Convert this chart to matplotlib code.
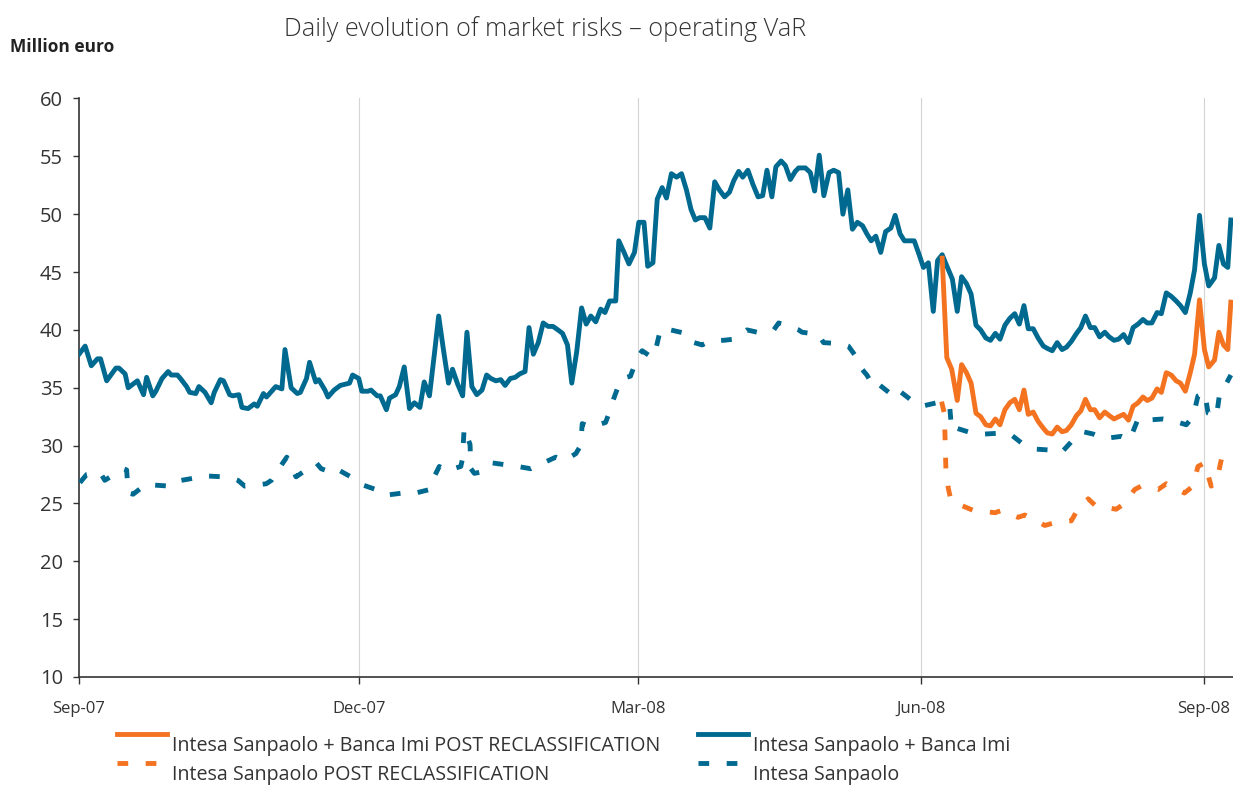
import matplotlib
matplotlib.use("Agg")
import matplotlib.pyplot as plt
from matplotlib.legend_handler import HandlerLine2D

plt.rcParams['font.family'] = ['Open Sans', 'DejaVu Sans']

# x = days since 1 Sep 2007, y = million euro
isp_imi_days = [0, 2, 4, 6, 7, 9, 12, 13, 15, 16, 19, 21, 22, 24, 25, 27, 29, 30, 32, 33,
                35, 36, 38, 39, 41, 43, 44, 46, 47, 49, 50, 52, 53, 55, 57, 58, 60, 61, 63, 64,
                66, 67, 69, 71, 72, 74, 75, 77, 78, 80, 81, 83, 85, 88, 89, 91, 92, 94, 95, 97,
                98, 100, 101, 103, 104.2, 105.8, 107.5, 109.1, 110.9, 112.3, 114.0, 115.6, 117.0,
                118.6, 120.2, 121.5, 123.2, 124.8, 126.2, 127.8, 129.4, 131.1, 132.6, 134.0,
                135.6, 137.2, 138.6, 140.3, 141.9, 143.4, 145.1, 146.4, 147.8, 149.4, 151.0,
                152.6, 154.2, 155.8, 157.3, 158.9, 160.3, 161.9, 163.5, 165.0, 166.5, 168.1,
                169.7, 171.1, 172.6, 174.6, 175.6, 177.3, 178.9, 180.7, 182.1, 183.8, 185.0,
                186.7, 188.1, 189.7, 191.1, 192.7, 194.4, 196.0, 197.6, 199.1, 200.5, 201.9,
                203.6, 205.2, 206.8, 208.3, 210.0, 211.6, 213.0, 214.6, 215.9, 217.6, 219.2,
                220.9, 222.4, 223.8, 225.4, 226.7, 228.4, 229.8, 231.4, 233.0, 234.1, 236.3,
                237.9, 239.3, 240.8, 242.3, 244.0, 245.5, 247.1, 248.5, 250.1, 251.6, 253.2,
                254.9, 256.3, 257.7, 259.2, 260.8, 262.4, 264.1, 265.5, 267.1, 268.5, 270.1,
                271.7, 273.3, 274.7, 276.3, 277.9, 279.3, 280.8, 282.5, 284.1, 285.7, 287.1,
                288.7, 290.2, 291.8, 293.3, 295.0, 296.5, 298.1, 299.6, 301.2, 302.8, 304.4,
                305.9, 307.4, 308.8, 310.4, 312.0, 313.7, 315.0, 316.6, 318.2, 319.8, 321.2,
                322.8, 324.5, 325.9, 327.4, 329.0, 330.4, 332.0, 333.7, 335.1, 336.7, 338.2,
                339.8, 341.4, 342.9, 344.5, 346.1, 347.5, 349.0, 350.7, 352.1, 353.7, 355.3,
                356.9, 358.3, 359.9, 361.5, 362.9, 364.5, 366.1, 367.5, 369.4, 370.8, 372.3,
                373.7, 374.7]
isp_imi = [37.9, 38.6, 36.9, 37.5, 37.5, 35.6, 36.7, 36.7, 36.2, 35.0, 35.6, 34.4, 35.9, 34.3,
           34.7, 35.8, 36.4, 36.1, 36.1, 35.8, 35.1, 34.6, 34.5, 35.1, 34.6, 33.7, 34.6, 35.7,
           35.6, 34.4, 34.3, 34.4, 33.3, 33.2, 33.6, 33.4, 34.5, 34.2, 34.8, 35.1, 34.9, 38.3,
           35.0, 34.5, 34.6, 35.8, 37.2, 35.5, 35.7, 34.8, 34.2, 34.8, 35.2, 35.4, 36.1, 35.8,
           34.7, 34.7, 34.8, 34.3, 34.3, 33.1, 34.1, 34.4, 35.1, 36.8, 33.2, 33.7, 33.3, 35.5,
           34.3, 37.9, 41.2, 38.2, 35.4, 36.6, 35.3, 34.3, 39.8, 35.1, 34.4, 34.8, 36.1, 35.8,
           35.6, 35.7, 35.2, 35.8, 35.9, 36.2, 36.4, 40.2, 37.9, 38.9, 40.6, 40.3, 40.3, 40.0,
           39.7, 38.7, 35.4, 38.1, 41.9, 40.5, 41.2, 40.7, 41.8, 41.5, 42.5, 42.5, 47.7, 46.7,
           45.7, 46.7, 49.3, 49.3, 45.5, 45.8, 51.3, 52.3, 51.4, 53.5, 53.2, 53.5, 52.1, 50.4,
           49.5, 49.7, 49.7, 48.8, 52.8, 52.1, 51.5, 51.9, 52.9, 53.7, 53.2, 53.8, 52.6, 51.5,
           51.6, 53.8, 51.5, 54.1, 54.6, 54.2, 53.0, 53.7, 54.0, 54.0, 53.6, 52.0, 55.1, 51.6,
           53.6, 53.8, 53.6, 50.0, 52.1, 48.7, 49.3, 49.0, 48.3, 47.7, 48.1, 46.7, 48.5, 48.8,
           49.9, 48.3, 47.7, 47.7, 47.7, 46.5, 45.4, 45.8, 41.6, 46.0, 46.5, 45.4, 44.4, 41.6,
           44.6, 44.0, 43.1, 40.4, 40.0, 39.3, 39.1, 39.7, 39.2, 40.4, 41.0, 41.4, 40.5, 42.1,
           40.1, 40.1, 39.3, 38.6, 38.4, 38.2, 38.9, 38.3, 38.5, 39.0, 39.7, 40.2, 41.2, 40.2,
           40.2, 39.4, 39.8, 39.4, 39.1, 39.2, 39.6, 38.9, 40.2, 40.5, 40.9, 40.6, 40.6, 41.5,
           41.4, 43.2, 42.9, 42.5, 42.1, 41.5, 43.2, 45.2, 49.9, 45.7, 43.8, 44.5, 47.3, 45.7,
           45.4, 49.5]

isp_imi_post_days = [280.8, 282.3, 283.9, 285.7, 287.1, 288.7, 290.2, 291.8, 293.3, 295.0,
                     296.5, 298.1, 299.6, 301.2, 302.8, 304.4, 305.9, 307.4, 308.8, 310.4,
                     312.0, 313.7, 315.0, 316.6, 318.2, 319.8, 321.2, 322.8, 324.5, 325.9,
                     327.4, 329.0, 330.4, 332.0, 333.7, 335.1, 336.7, 338.2, 339.8, 341.4,
                     342.9, 344.5, 346.1, 347.5, 349.0, 350.7, 352.1, 353.7, 355.3, 356.9,
                     358.3, 359.9, 361.5, 362.9, 364.5, 366.1, 367.5, 369.4, 370.8, 372.3,
                     373.7, 374.7]
isp_imi_post = [46.2, 37.6, 36.6, 33.9, 37.0, 36.3, 35.4, 32.8, 32.5, 31.8, 31.7, 32.3, 31.8,
                33.1, 33.7, 34.0, 33.1, 34.8, 32.7, 32.9, 32.1, 31.5, 31.1, 31.0, 31.6, 31.2,
                31.3, 31.8, 32.6, 33.0, 34.0, 33.1, 33.1, 32.4, 32.9, 32.6, 32.3, 32.5, 32.7,
                32.2, 33.4, 33.7, 34.2, 33.9, 34.1, 34.9, 34.6, 36.3, 36.1, 35.6, 35.4, 34.7,
                36.3, 37.9, 42.6, 38.3, 36.8, 37.4, 39.8, 38.7, 38.3, 42.4]

isp_days = [0.3, 2.5, 6.8, 8.4, 14.4, 15.5, 16.0, 17.6, 22.0, 23.6, 29.5, 31.2, 37.7, 39.8,
            46.9, 49.6, 51.7, 53.9, 60.9, 62.6, 66.3, 67.6, 70.6, 72.8, 77.2, 78.8, 82.0,
            83.7, 89.1, 91.2, 96.6, 99.4, 105.3, 108.0, 114.0, 115.0, 117.2, 119.4, 124.2,
            124.7, 125.3, 127.2, 127.5, 128.6, 132.4, 134.5, 139.9, 142.6, 147.0, 150.2,
            155.1, 157.8, 161.6, 163.2, 163.7, 166.5, 171.3, 172.4, 174.0, 175.1, 176.7,
            179.4, 181.6, 183.2, 186.5, 187.6, 189.2, 192.4, 197.3, 198.9, 202.7, 205.9,
            209.7, 213.0, 217.3, 220.6, 226.0, 227.6, 234.1, 235.2, 240.6, 242.2, 248.2,
            250.3, 253.0, 254.1, 256.3, 257.4, 259.5, 260.6, 264.4, 266.0, 271.4, 274.1,
            280.6, 283.3, 283.9, 285.5, 291.5, 294.7, 301.2, 303.4, 307.7, 310.9, 316.9,
            319.6, 323.4, 326.6, 329.9, 333.2, 339.1, 341.8, 344.5, 347.2, 352.6, 355.3,
            360.2, 362.4, 364.0, 366.2, 367.3, 370.0, 371.1, 372.7, 374.7]
isp = [26.8, 27.5, 27.7, 27.0, 28.0, 27.9, 25.9, 25.8, 26.7, 26.6, 26.5, 26.9, 27.2, 27.4,
       27.3, 27.2, 27.0, 26.5, 26.7, 27.0, 28.5, 29.0, 27.3, 27.7, 28.5, 28.0, 27.7, 28.0,
       27.2, 26.7, 26.2, 25.7, 25.9, 25.8, 26.2, 27.0, 28.2, 27.8, 28.2, 28.8, 31.5, 30.1,
       28.0, 27.6, 27.8, 28.5, 28.3, 28.2, 28.0, 28.4, 29.0, 28.7, 29.3, 30.0, 31.9, 31.6,
       32.0, 32.8, 34.1, 34.9, 35.8, 36.0, 37.6, 38.2, 37.6, 38.3, 40.1, 40.0, 39.7, 39.0,
       38.7, 39.1, 39.1, 39.2, 40.0, 39.8, 40.0, 40.6, 40.0, 39.8, 39.6, 38.9, 38.8, 38.6,
       37.6, 36.8, 36.1, 35.6, 35.8, 35.2, 34.4, 34.9, 33.8, 33.4, 33.8, 33.2, 31.3, 31.5,
       31.0, 31.0, 31.1, 30.9, 30.0, 29.7, 29.6, 29.4, 30.5, 31.2, 31.0, 30.6, 30.8, 30.5,
       32.3, 32.2, 32.3, 32.2, 31.8, 32.5, 34.3, 34.6, 32.8, 32.5, 34.6, 35.1, 36.1]

isp_post_days = [280.6, 281.4, 281.7, 282.0, 282.8, 283.7, 288.2, 290.9, 298.0, 300.1, 305.5,
                 307.7, 314.2, 316.9, 322.8, 324.5, 328.3, 330.7, 337.4, 340.1, 343.4, 345.5,
                 351.0, 353.7, 359.6, 362.4, 364.0, 366.2, 368.3, 370.0, 371.6, 374.7]
isp_post = [33.8, 32.9, 31.0, 28.0, 26.3, 25.2, 24.7, 24.4, 24.2, 24.4, 23.8, 24.0, 23.1, 23.3,
            23.5, 24.3, 25.4, 24.8, 24.5, 25.0, 26.2, 26.5, 26.2, 26.7, 25.9, 26.5, 28.2, 28.5,
            26.5, 26.8, 28.8, 29.1]

tick_days = [0, 91, 182, 274, 366]
tick_labels = ['Sep-07', 'Dec-07', 'Mar-08', 'Jun-08', 'Sep-08']

blue = '#006990'
orange = '#f47321'
text_col = '#333333'


class RaisedLine(HandlerLine2D):
    # legend keys sit a bit above the middle of their label in the original
    def create_artists(self, legend, orig_handle, xdescent, ydescent, width, height,
                       fontsize, trans):
        artists = super().create_artists(legend, orig_handle, xdescent, ydescent,
                                         width, height, fontsize, trans)
        for a in artists:
            a.set_ydata([y + 0.5 * fontsize for y in a.get_ydata()])
        return artists


fig = plt.figure(figsize=(12.33, 7.87), dpi=100)
ax = fig.add_axes([79/1233, 1 - 677/787, 1 - 79/1233, (677 - 98.5)/787])

lw = 3.5
dash = (2.2, 3.6)
l1, = ax.plot(isp_imi_post_days, isp_imi_post, color=orange, lw=lw, zorder=4)
l2, = ax.plot(isp_post_days, isp_post, color=orange, lw=lw, dashes=dash, zorder=3)
l3, = ax.plot(isp_imi_days, isp_imi, color=blue, lw=lw, zorder=3)
l4, = ax.plot(isp_days, isp, color=blue, lw=lw, dashes=dash, zorder=3)

ax.set_xlim(0, 375.4)
ax.set_ylim(10, 60)
ax.set_yticks(range(10, 61, 5))
ax.set_xticks(tick_days)
ax.set_xticklabels(tick_labels)
ax.tick_params(axis='y', labelsize=14.5, colors=text_col, length=4.5, width=1, pad=7)
ax.tick_params(axis='x', labelsize=12, colors=text_col, length=5, width=1, pad=12)
for x in tick_days[1:]:
    ax.axvline(x, color='#d4d4d4', lw=0.8, zorder=1)

ax.spines['top'].set_visible(False)
ax.spines['right'].set_visible(False)
for side in ['left', 'bottom']:
    ax.spines[side].set_color(text_col)
    ax.spines[side].set_linewidth(1.2)

fig.text(545/1233, 1 - 29/787, 'Daily evolution of market risks \u2013 operating VaR',
         ha='center', va='center', fontsize=18.2, color=text_col, fontweight='light')
fig.text(10/1233, 1 - 47/787, 'Million euro', ha='left', va='center',
         fontsize=12.5, fontweight='bold', color='#222222')

fig.legend([l1, l2, l3, l4],
           ['Intesa Sanpaolo + Banca Imi POST RECLASSIFICATION',
            'Intesa Sanpaolo POST RECLASSIFICATION',
            'Intesa Sanpaolo + Banca Imi',
            'Intesa Sanpaolo'],
           handler_map={l: RaisedLine() for l in [l1, l2, l3, l4]},
           ncol=2, frameon=False, loc='upper left',
           bbox_to_anchor=(117/1233, 1 - 736/787), borderpad=0, borderaxespad=0,
           fontsize=14.1, handlelength=2.55, handletextpad=0.25,
           columnspacing=1.95, labelspacing=0.45, labelcolor=text_col)

fig.savefig('out.png', dpi=100)
